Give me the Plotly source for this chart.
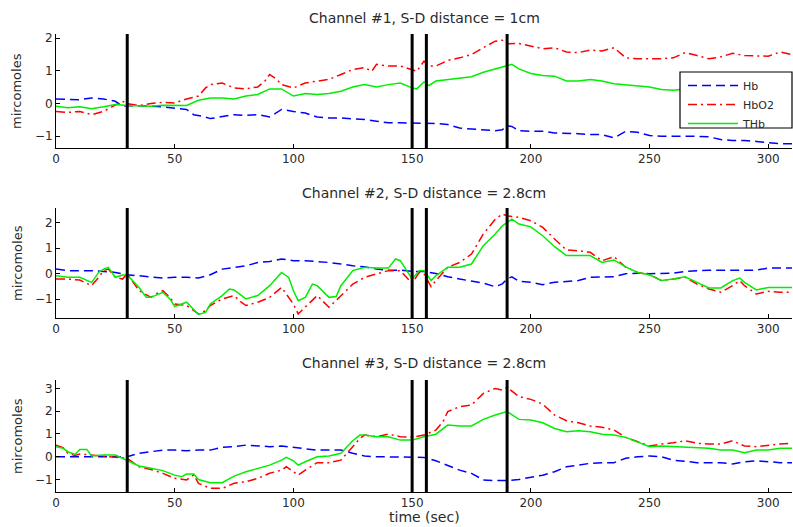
import plotly.graph_objects as go

# ---------------- data ----------------
# Channel 1
c1_hb_t = [0,5,10,15,20,25,28,30,35,40,45,50,55,58,62,65,70,75,80,85,90,95,100,105,110,115,120,125,130,135,140,
           145,150,155,160,165,170,175,180,185,188,190,192,195,200,205,210,215,220,225,230,235,240,245,250,255,
           260,265,270,275,280,285,290,295,300,305,310]
c1_hb = [0.14,0.12,0.12,0.17,0.14,0.07,-0.08,-0.06,-0.06,-0.08,-0.1,-0.13,-0.18,-0.34,-0.39,-0.46,-0.39,-0.34,
         -0.36,-0.34,-0.41,-0.18,-0.24,-0.29,-0.41,-0.44,-0.44,-0.46,-0.49,-0.54,-0.59,-0.59,-0.59,-0.59,-0.61,
         -0.64,-0.75,-0.78,-0.8,-0.83,-0.8,-0.68,-0.7,-0.83,-0.85,-0.85,-0.9,-0.9,-0.92,-0.95,-0.95,-1.05,-0.85,
         -0.88,-0.98,-1.0,-1.0,-0.98,-1.0,-1.02,-1.1,-1.13,-1.13,-1.16,-1.19,-1.23,-1.23]

c1_hbo2_t = [0,5,10,15,20,25,28,30,35,40,45,50,55,60,63,65,70,75,80,85,88,90,93,95,100,105,110,115,120,125,130,
             133,135,140,145,150,152,155,157,160,165,170,175,180,185,188,190,195,200,205,210,215,220,225,230,235,
             240,245,250,255,260,265,270,275,280,285,290,295,300,305,310]
c1_hbo2 = [-0.24,-0.27,-0.24,-0.34,-0.24,-0.06,0.07,0.0,-0.06,0.0,0.04,0.02,0.14,0.23,0.48,0.58,0.63,0.48,0.45,
           0.51,0.69,0.89,0.74,0.58,0.48,0.63,0.69,0.74,0.89,1.04,1.1,0.99,1.2,1.15,1.15,1.04,0.99,1.3,1.15,1.15,
           1.32,1.4,1.5,1.71,1.91,1.94,1.83,1.84,1.76,1.68,1.71,1.58,1.56,1.64,1.61,1.71,1.4,1.37,1.37,1.37,1.4,
           1.56,1.47,1.37,1.43,1.54,1.47,1.47,1.45,1.58,1.5]

c1_thb_t = [0,5,10,15,20,25,30,35,40,45,50,55,60,65,70,75,80,85,90,95,100,105,110,115,120,125,130,135,140,145,
            150,152,155,157,160,165,170,175,180,185,190,192,195,200,205,210,215,220,225,230,235,240,245,250,255,
            260,265,270,275,280,285,290,295,300,305,310]
c1_thb = [-0.08,-0.13,-0.1,-0.16,-0.1,-0.03,-0.06,-0.08,-0.08,-0.05,-0.06,-0.06,0.1,0.17,0.17,0.14,0.23,0.28,
          0.45,0.45,0.23,0.31,0.28,0.31,0.38,0.51,0.58,0.51,0.58,0.63,0.48,0.45,0.66,0.55,0.69,0.74,0.79,0.82,
          0.96,1.06,1.15,1.2,1.06,0.92,0.86,0.84,0.69,0.69,0.74,0.69,0.61,0.58,0.55,0.51,0.43,0.41,0.45,0.43,
          0.42,0.44,0.42,0.4,0.42,0.43,0.41,0.42]

# Channel 2
c2_hb_t = [0,5,10,15,20,25,30,35,40,45,50,55,60,65,70,75,80,85,90,95,100,105,110,115,120,125,130,135,140,
           145,150,155,160,165,170,175,180,185,188,190,192,195,200,205,210,215,220,225,230,235,240,245,250,255,
           260,265,270,275,280,285,290,295,300,305,310]
c2_hb = [0.18,0.12,0.12,0.12,0.09,0.05,-0.04,-0.08,-0.14,-0.17,-0.14,-0.14,-0.17,-0.04,0.18,0.25,0.31,0.44,0.48,
         0.58,0.51,0.51,0.48,0.44,0.38,0.31,0.27,0.18,0.14,0.14,0.09,0.09,0.01,-0.12,-0.21,-0.3,-0.37,-0.51,-0.4,
         -0.21,-0.12,-0.3,-0.34,-0.43,-0.34,-0.31,-0.27,-0.14,-0.14,-0.12,0.0,0.02,0.0,0.02,0.02,0.09,0.12,0.14,
         0.14,0.14,0.14,0.14,0.22,0.22,0.22]

c2_hbo2_t = [0,5,10,15,18,20,22,25,28,30,35,40,43,45,48,50,55,60,63,65,70,75,78,80,85,90,95,100,102,105,110,
             115,120,125,130,135,140,145,150,153,155,158,160,165,170,175,180,185,188,190,195,200,205,210,215,220,
             225,230,235,240,245,250,255,260,265,270,275,280,285,288,290,295,300,305,310]
c2_hbo2 = [-0.21,-0.21,-0.25,-0.47,-0.14,0.12,0.18,-0.14,-0.21,0.0,-0.67,-0.93,-0.75,-0.67,-0.93,-1.19,-1.25,
           -1.58,-1.45,-1.25,-0.99,-0.86,-1.12,-1.25,-1.12,-0.93,-0.54,-1.19,-1.58,-1.3,-0.86,-1.32,-0.86,-0.41,
           -0.14,0.0,0.12,0.12,-0.38,0.05,0.0,-0.51,-0.27,0.25,0.44,0.77,1.56,2.14,2.34,2.27,2.21,2.08,1.82,1.36,
           0.93,0.9,0.84,0.51,0.67,0.25,0.05,-0.04,-0.27,-0.21,-0.14,-0.41,-0.6,-0.73,-0.47,-0.27,-0.47,-0.8,
           -0.69,-0.73,-0.73]

c2_thb_t = [0,5,10,15,18,20,22,25,28,30,35,38,40,45,48,50,55,60,63,65,70,73,75,80,85,90,95,98,100,102,105,108,
            110,115,118,120,125,130,135,140,143,145,150,153,155,158,160,165,170,175,180,185,188,190,192,195,200,
            205,210,215,220,225,230,235,240,245,250,255,260,265,270,275,280,285,288,290,295,300,305,310]
c2_thb = [-0.08,-0.14,-0.14,-0.34,0.05,0.18,0.25,-0.14,-0.05,-0.05,-0.54,-0.93,-0.93,-0.73,-0.99,-1.29,-1.12,
          -1.6,-1.52,-1.19,-0.86,-0.6,-0.64,-0.99,-0.86,-0.47,0.05,-0.15,-0.67,-1.06,-0.93,-0.41,-0.47,-0.93,-0.9,
          -0.47,0.12,0.25,0.22,0.22,0.58,0.51,-0.21,0.12,0.12,-0.27,-0.08,0.25,0.25,0.38,1.1,1.56,1.88,2.01,2.14,
          1.95,1.84,1.49,1.06,0.71,0.71,0.71,0.44,0.54,0.27,0.05,-0.04,-0.27,-0.21,-0.12,-0.34,-0.56,-0.56,-0.27,
          -0.17,-0.34,-0.64,-0.54,-0.54,-0.54]

# Channel 3
c3_hb_t = list(range(0, 315, 5))
c3_hb = [0.0,0.0,0.03,0.03,0.03,0.0,0.0,0.15,0.22,0.29,0.29,0.26,0.29,0.29,0.41,0.44,0.51,0.47,0.44,0.47,0.41,
         0.37,0.29,0.29,0.29,0.15,0.03,0.0,0.0,-0.03,0.0,-0.03,-0.18,-0.37,-0.59,-0.73,-1.02,-1.05,-1.05,-1.0,
         -0.91,-0.81,-0.66,-0.44,-0.37,-0.29,-0.26,-0.26,-0.07,0.0,0.03,0.0,-0.15,-0.22,-0.26,-0.26,-0.26,-0.32,
         -0.22,-0.18,-0.22,-0.26,-0.26]

c3_hbo2_t = [0,3,5,8,10,15,20,25,30,35,40,45,50,55,58,60,65,70,75,80,85,90,95,97,100,102,105,110,115,120,125,
             128,130,135,140,145,150,155,160,163,165,170,175,180,185,188,190,195,200,205,210,215,220,225,230,235,
             240,245,250,255,260,265,270,275,280,285,290,295,300,305,310]
c3_hbo2 = [0.51,0.4,0.15,0.05,0.12,0.07,0.03,0.0,-0.07,-0.44,-0.56,-0.73,-0.95,-1.02,-0.8,-1.17,-1.39,-1.39,
           -1.17,-1.1,-0.95,-0.73,-0.59,-0.44,-0.66,-0.81,-0.59,-0.26,-0.26,-0.15,0.44,0.81,0.95,0.88,0.99,0.88,
           0.85,0.95,1.17,1.54,1.98,2.2,2.27,2.78,3.0,2.93,3.05,2.64,2.52,2.31,1.83,1.58,1.49,1.35,1.29,1.17,0.85,
           0.66,0.47,0.56,0.61,0.7,0.59,0.56,0.56,0.7,0.47,0.44,0.51,0.56,0.59]

c3_thb_t = [0,3,5,8,10,13,15,20,25,30,35,40,45,50,53,55,58,60,65,70,75,80,85,90,95,97,100,102,105,110,115,120,
            125,128,130,135,140] + list(range(145, 315, 5))
c3_thb = [0.44,0.37,0.22,0.1,0.32,0.32,0.03,0.07,0.07,-0.18,-0.41,-0.51,-0.61,-0.81,-0.88,-0.76,-0.76,-1.0,
          -1.14,-1.14,-0.85,-0.66,-0.51,-0.37,-0.15,-0.03,-0.18,-0.37,-0.22,0.0,0.03,0.15,0.7,0.95,0.95,0.88,0.88,
          0.73,0.73,0.88,0.99,1.39,1.35,1.35,1.64,1.83,1.98,1.64,1.61,1.49,1.24,1.1,1.14,1.1,0.99,0.95,0.85,0.66,
          0.44,0.47,0.44,0.41,0.37,0.37,0.29,0.29,0.18,0.29,0.29,0.37,0.37]

titles = ["Channel #1, S-D distance = 1cm",
          "Channel #2, S-D distance = 2.8cm",
          "Channel #3, S-D distance = 2.8cm"]
event_times = [30, 150, 156, 190]
series_names = ["Hb", "HbO2", "THb"]
y_ticks = [[-1, 0, 1, 2], [-1, 0, 1, 2], [-1, 0, 1, 2, 3]]
y_ranges = [[-1.36, 2.13], [-1.74, 2.58], [-1.55, 3.37]]
x_ticks = [0, 50, 100, 150, 200, 250, 300]

panels = [
    [(c1_hb_t, c1_hb), (c1_hbo2_t, c1_hbo2), (c1_thb_t, c1_thb)],
    [(c2_hb_t, c2_hb), (c2_hbo2_t, c2_hbo2), (c2_thb_t, c2_thb)],
    [(c3_hb_t, c3_hb), (c3_hbo2_t, c3_hbo2), (c3_thb_t, c3_thb)],
]

# ---------------- figure ----------------
W, H = 793, 527
colors = ["#0000ff", "#ff0000", "#00ee00"]
dashes = ["9px,5px", "9px,4px,2px,4px", "solid"]
FONT = "DejaVu Sans"
TEXT = "#2a2a2a"

# pixel boxes of each plot area: (top, bottom)
rows_px = [(34, 148), (208, 318), (380, 492)]
x_px = (56, 792)
legend_box = (680, 72, 792, 128)  # left, top, right, bottom (px)

fig = go.Figure()
layout = dict(width=W, height=H, margin=dict(l=0, r=0, t=0, b=0, autoexpand=False),
              paper_bgcolor="white", plot_bgcolor="white", showlegend=True,
              font=dict(family=FONT, size=11, color=TEXT))
annotations = []
shapes = []
for i, series in enumerate(panels):
    sfx = "" if i == 0 else str(i + 1)
    top, bot = rows_px[i]
    layout["xaxis" + sfx] = dict(domain=[x_px[0] / W, x_px[1] / W], range=[0, 310], tickvals=x_ticks,
                                 ticks="inside", ticklen=4, tickcolor="black", showline=True,
                                 linecolor="black", linewidth=1, showgrid=False, zeroline=False,
                                 automargin=False,
                                 anchor="y" + sfx, tickfont=dict(size=12, family=FONT, color=TEXT))
    layout["yaxis" + sfx] = dict(domain=[1 - bot / H, 1 - top / H], range=y_ranges[i], tickvals=y_ticks[i],
                                 ticks="inside", ticklen=4, tickcolor="black", showline=True,
                                 linecolor="black", linewidth=1, showgrid=False, zeroline=False,
                                 automargin=False,
                                 anchor="x" + sfx, tickfont=dict(size=12, family=FONT, color=TEXT))
    for k, (tt, vv) in enumerate(series):
        assert len(tt) == len(vv), (i, k, len(tt), len(vv))
        fig.add_trace(go.Scatter(x=tt, y=vv, mode="lines", name=series_names[k],
                                 line=dict(color=colors[k], width=1.5, dash=dashes[k]),
                                 showlegend=(i == 0), xaxis="x" + sfx, yaxis="y" + sfx))
    for et in event_times:
        shapes.append(dict(type="line", xref="x" + sfx, yref="y" + sfx + " domain", x0=et, x1=et,
                           y0=0, y1=1, line=dict(color="black", width=3), layer="above"))
    annotations.append(dict(text=titles[i], xref="paper", yref="paper", x=(x_px[0] + x_px[1]) / 2 / W,
                            y=1 - [18, 193, 363][i] / H, xanchor="center", yanchor="middle",
                            showarrow=False, font=dict(size=14, family=FONT, color=TEXT)))
    annotations.append(dict(text="mircomoles", xref="paper", yref="paper", x=17 / W,
                            y=1 - (top + bot) / 2 / H, textangle=-90, xanchor="center", yanchor="middle",
                            showarrow=False, font=dict(size=13, family=FONT, color=TEXT)))

annotations.append(dict(text="time (sec)", xref="paper", yref="paper", x=(x_px[0] + x_px[1]) / 2 / W,
                        y=1 - 517 / H, xanchor="center", yanchor="middle", showarrow=False,
                        font=dict(size=14, family=FONT, color=TEXT)))

# legend frame (white box covering the lines beneath it)
lx0, ly0, lx1, ly1 = legend_box
shapes.append(dict(type="rect", xref="paper", yref="paper", x0=lx0 / W, x1=lx1 / W,
                   y0=1 - ly1 / H, y1=1 - ly0 / H, fillcolor="white",
                   line=dict(color="black", width=1.2), layer="above"))

layout["annotations"] = annotations
layout["shapes"] = shapes
layout["legend"] = dict(x=(lx0 + 3) / W, y=1 - (ly0 - 1) / H, xanchor="left", yanchor="top",
                        bgcolor="rgba(0,0,0,0)", borderwidth=0,
                        font=dict(size=11, family=FONT, color=TEXT),
                        tracegroupgap=0, itemwidth=50)
fig.update_layout(**layout)
fig.write_html("out.html", config={"displayModeBar": False},
               post_script="document.body.style.margin='0';document.body.style.overflow='hidden';")
